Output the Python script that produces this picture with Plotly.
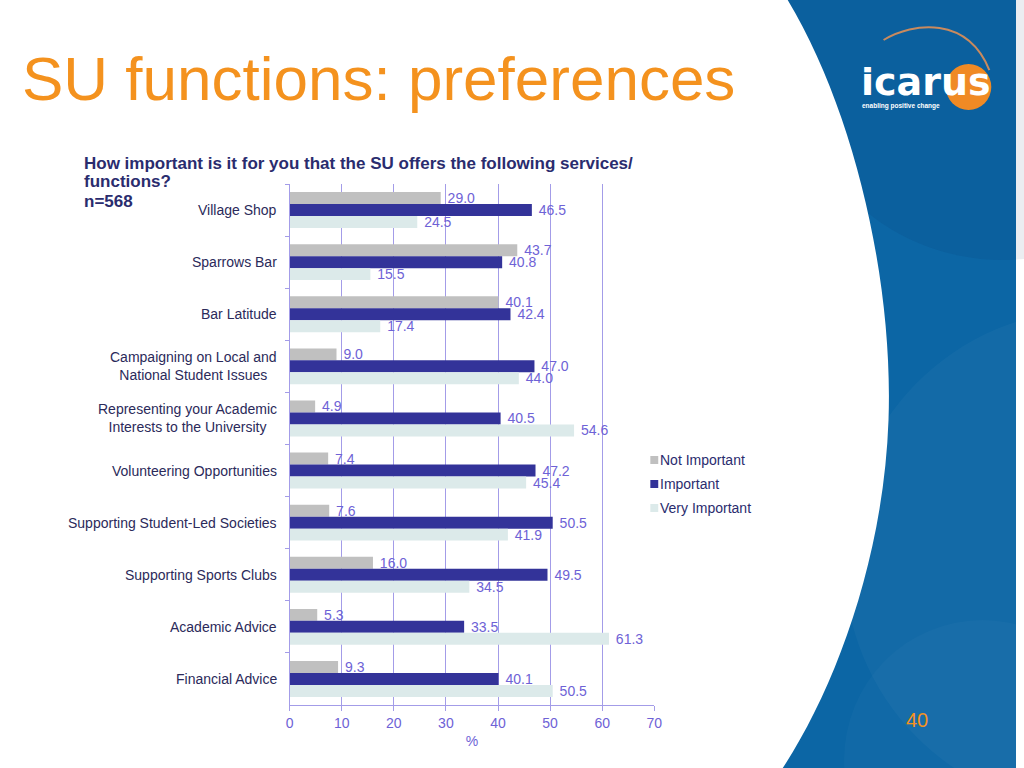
import plotly.graph_objects as go

categories = [
    "Village Shop",
    "Sparrows Bar",
    "Bar Latitude",
    "Campaigning on Local and<br>National Student Issues",
    "Representing your Academic<br>Interests to the University",
    "Volunteering Opportunities",
    "Supporting Student-Led Societies",
    "Supporting Sports Clubs",
    "Academic Advice",
    "Financial Advice",
]
not_important = [29.0, 43.7, 40.1, 9.0, 4.9, 7.4, 7.6, 16.0, 5.3, 9.3]
important = [46.5, 40.8, 42.4, 47.0, 40.5, 47.2, 50.5, 49.5, 33.5, 40.1]
very_important = [24.5, 15.5, 17.4, 44.0, 54.6, 45.4, 41.9, 34.5, 61.3, 50.5]
series_names = ["Not Important", "Important", "Very Important"]
series_colors = ["#c0c0c0", "#333399", "#dceaea"]
x_ticks = [0, 10, 20, 30, 40, 50, 60, 70]

W, H = 1024, 768
def px(x, y):
    return x / W, 1 - y / H

LABEL_COLOR = "#6e62d6"
GRID_COLOR = "#a39ce8"
NAVY = "#2a2c6e"
FONT = "Liberation Sans, Arial, sans-serif"

fig = go.Figure()
for name, vals, col in zip(series_names, [not_important, important, very_important], series_colors):
    fig.add_trace(go.Bar(
        y=categories, x=vals, name=name, orientation="h",
        marker=dict(color=col, line=dict(width=0)),
        text=[f" {v:.1f}" for v in vals], textposition="outside",
        textfont=dict(color=LABEL_COLOR, size=14, family=FONT),
        constraintext="none", cliponaxis=False, showlegend=False,
    ))

x0, _ = px(289, 0)
x1, _ = px(658, 0)
_, y_top = px(0, 184)
_, y_bot = px(0, 705)

fig.update_layout(
    width=W, height=H, autosize=False,
    margin=dict(l=0, r=0, t=0, b=0, pad=0),
    paper_bgcolor="white", plot_bgcolor="rgba(0,0,0,0)",
    barmode="group", bargap=0.31, bargroupgap=0,
    font=dict(family=FONT),
    xaxis=dict(
        domain=[x0, x1], range=[0, 70], tickvals=x_ticks,
        showgrid=True, gridcolor=GRID_COLOR, gridwidth=1,
        showline=True, linecolor=GRID_COLOR, linewidth=1,
        ticks="outside", ticklen=5, tickcolor=GRID_COLOR,
        tickfont=dict(color=LABEL_COLOR, size=14, family=FONT),
        title=dict(text="%", font=dict(color=LABEL_COLOR, size=14, family=FONT), standoff=6),
        zeroline=False, fixedrange=True,
    ),
    yaxis=dict(
        domain=[y_bot, y_top], autorange="reversed", type="category",
        showgrid=False, showline=True, linecolor=GRID_COLOR, linewidth=1,
        ticks="outside", ticklen=4, tickcolor=GRID_COLOR, tickson="boundaries",
        showticklabels=False,
        zeroline=False, fixedrange=True,
    ),
)

shapes = []
# blue decorative background on the right
shapes.append(dict(type="rect", xref="paper", yref="paper", x0=px(760, 0)[0], x1=1, y0=0, y1=1,
                   fillcolor="#0c66a5", line=dict(width=0), layer="below"))
for (cx, cy, r, col) in [
    (1010, 40, 220, "rgba(0,30,80,0.08)"),
    (1100, 560, 250, "rgba(255,255,255,0.03)"),
    (990, 760, 140, "rgba(255,255,255,0.025)"),
]:
    a0, b0 = px(cx - r, cy - r)
    a1, b1 = px(cx + r, cy + r)
    shapes.append(dict(type="circle", xref="paper", yref="paper", x0=a0, y0=b1, x1=a1, y1=b0,
                       fillcolor=col, line=dict(width=0), layer="below"))

def P(x, y):
    a, b = px(x, y)
    return f"{a:.5f},{b:.5f}"

white_path = (f"M {P(0,0)} L {P(793,0)} C {P(860,110)} {P(900,280)} {P(895,420)} "
              f"C {P(890,560)} {P(840,690)} {P(788,768)} L {P(0,768)} Z")
shapes.append(dict(type="path", xref="paper", yref="paper", path=white_path,
                   fillcolor="white", line=dict(width=0), layer="below"))

# logo: orange disc and swoosh arc
a0, b0 = px(953, 64)
a1, b1 = px(999, 110)
shapes.append(dict(type="circle", xref="paper", yref="paper", x0=a0, y0=b1, x1=a1, y1=b0,
                   fillcolor="#f08a24", line=dict(width=0), layer="below"))
arc = f"M {P(890,40)} C {P(920,22)} {P(975,16)} {P(997,70)}"
shapes.append(dict(type="path", xref="paper", yref="paper", path=arc,
                   line=dict(color="#c98a5e", width=2), layer="below"))

# legend keys
leg_y = [460, 484, 508]
for yy, col in zip(leg_y, series_colors):
    a0, b0 = px(654, yy - 4)
    a1, b1 = px(662, yy + 4)
    shapes.append(dict(type="rect", xref="paper", yref="paper", x0=a0, y0=b1, x1=a1, y1=b0,
                       fillcolor=col, line=dict(width=0)))

ann = []
def text(x, y, s, size, color, bold=False, xanchor="left", family=FONT):
    a, b = px(x, y)
    ann.append(dict(xref="paper", yref="paper", x=a, y=b, text=(f"<b>{s}</b>" if bold else s),
                    showarrow=False, xanchor=xanchor, yanchor="middle",
                    font=dict(size=size, color=color, family=family)))

# category labels (centered multi-line, right-anchored near the axis)
lab_x = px(278, 0)[0]
for c in categories:
    ann.append(dict(xref="paper", yref="y", x=lab_x, y=c, text=c, showarrow=False,
                    xanchor="right", yanchor="middle", align="center",
                    font=dict(size=14, color="#2b2a5a", family=FONT)))

text(16, 78, "SU functions: preferences", 62, "#f4921e")
text(79, 163, "How important is it for you that the SU offers the following services/", 17, NAVY, bold=True)
text(79, 182, "functions?", 17, NAVY, bold=True)
text(79, 202, "n=568", 17, NAVY, bold=True)
for yy, name in zip(leg_y, series_names):
    text(662, yy, name, 14, NAVY)
text(924, 720, "40", 20, "#f4921e", xanchor="center")
text(865, 82, "icarus", 38, "white", bold=True, family="DejaVu Sans, sans-serif")
text(866, 106, "enabling positive change", 6.5, "white", bold=True)

fig.update_layout(shapes=shapes, annotations=ann)
fig.write_html(
    "out.html",
    config={"displayModeBar": False, "staticPlot": True},
    post_script="document.body.style.margin='0';document.body.style.overflow='hidden';",
)
